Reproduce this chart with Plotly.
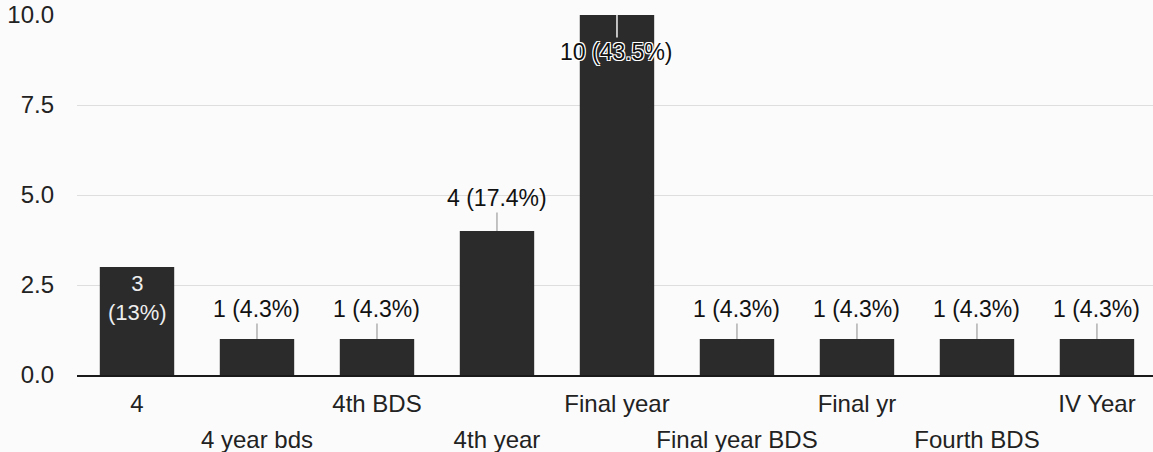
import plotly.graph_objects as go

# Responses per year of study
categories = ["4", "4 year bds", "4th BDS", "4th year", "Final year",
              "Final year BDS", "Final yr", "Fourth BDS", "IV Year"]
counts = [3, 1, 1, 4, 10, 1, 1, 1, 1]
percents = ["13%", "4.3%", "4.3%", "17.4%", "43.5%", "4.3%", "4.3%", "4.3%", "4.3%"]
y_ticks = [0, 2.5, 5, 7.5, 10]

FONT = "Liberation Sans, Arial, sans-serif"
BAR = "#2b2b2b"
SIZE = 23
X_RANGE = [-0.5, 8.467]

pos = list(range(len(categories)))

fig = go.Figure(go.Bar(
    x=pos,
    y=counts,
    width=0.62,
    marker=dict(color=BAR, line=dict(width=0)),
    hoverinfo="skip",
))
# empty trace so the staggered second label row (xaxis2) gets drawn
fig.add_trace(go.Scatter(x=[], y=[], xaxis="x2", yaxis="y", hoverinfo="skip"))

annotations = []
for i, (n, p) in enumerate(zip(counts, percents)):
    label = f"{n} ({p})"
    if n == 3:
        # fits inside the bar on two lines
        annotations.append(dict(x=i, y=n, text=f"{n}<br>({p})", showarrow=False,
                                yanchor="top", yshift=-2,
                                font=dict(family=FONT, size=SIZE - 1, color="#eeeeee")))
    elif n == max(counts):
        # label drawn inside the tallest bar with a halo
        annotations.append(dict(x=i, y=n, text=label, showarrow=True,
                                arrowhead=0, arrowwidth=1.5, arrowcolor="#f2f2f2",
                                ax=0, ay=37,
                                font=dict(family=FONT, size=SIZE, color="#111111",
                                          shadow="1px 1px 0 #fff, -1px -1px 0 #fff, 1px -1px 0 #fff, -1px 1px 0 #fff")))
    else:
        annotations.append(dict(x=i, y=n, text=label, showarrow=True,
                                arrowhead=0, arrowwidth=1, arrowcolor="#8a8a8a",
                                ax=0, ay=-33 if n > 1 else -30,
                                font=dict(family=FONT, size=SIZE, color="#111111")))

tickfont = dict(family=FONT, size=SIZE + 1, color="#222222")

fig.update_layout(
    width=1153, height=452,
    margin=dict(l=77, r=0, t=15, b=77),
    paper_bgcolor="#fbfbfb",
    plot_bgcolor="#fbfbfb",
    font=dict(family=FONT, size=SIZE, color="#222222"),
    showlegend=False,
    annotations=annotations,
    # first row of category labels (even positions)
    xaxis=dict(
        range=X_RANGE,
        tickvals=pos[0::2],
        ticktext=categories[0::2],
        tickangle=0,
        automargin=False,
        showgrid=False,
        showline=True, linecolor="#1a1a1a", linewidth=2,
        ticks="", ticklabelstandoff=6,
        tickfont=tickfont,
    ),
    # second, staggered row (odd positions)
    xaxis2=dict(
        range=X_RANGE,
        overlaying="x", anchor="y", side="bottom",
        tickvals=pos[1::2],
        ticktext=categories[1::2],
        tickangle=0,
        automargin=False,
        showgrid=False, zeroline=False, showline=False,
        ticks="", ticklabelstandoff=48,
        tickfont=tickfont,
    ),
    yaxis=dict(
        range=[0, 10],
        tickvals=y_ticks,
        tickformat=".1f",
        automargin=False,
        showgrid=True, gridcolor="#dedede", gridwidth=1,
        zeroline=False, showline=False,
        ticks="", ticklabelstandoff=22,
        tickfont=tickfont,
    ),
)

fig.write_html("out.html", config={"displayModeBar": False},
               post_script="document.body.style.margin='0';")
